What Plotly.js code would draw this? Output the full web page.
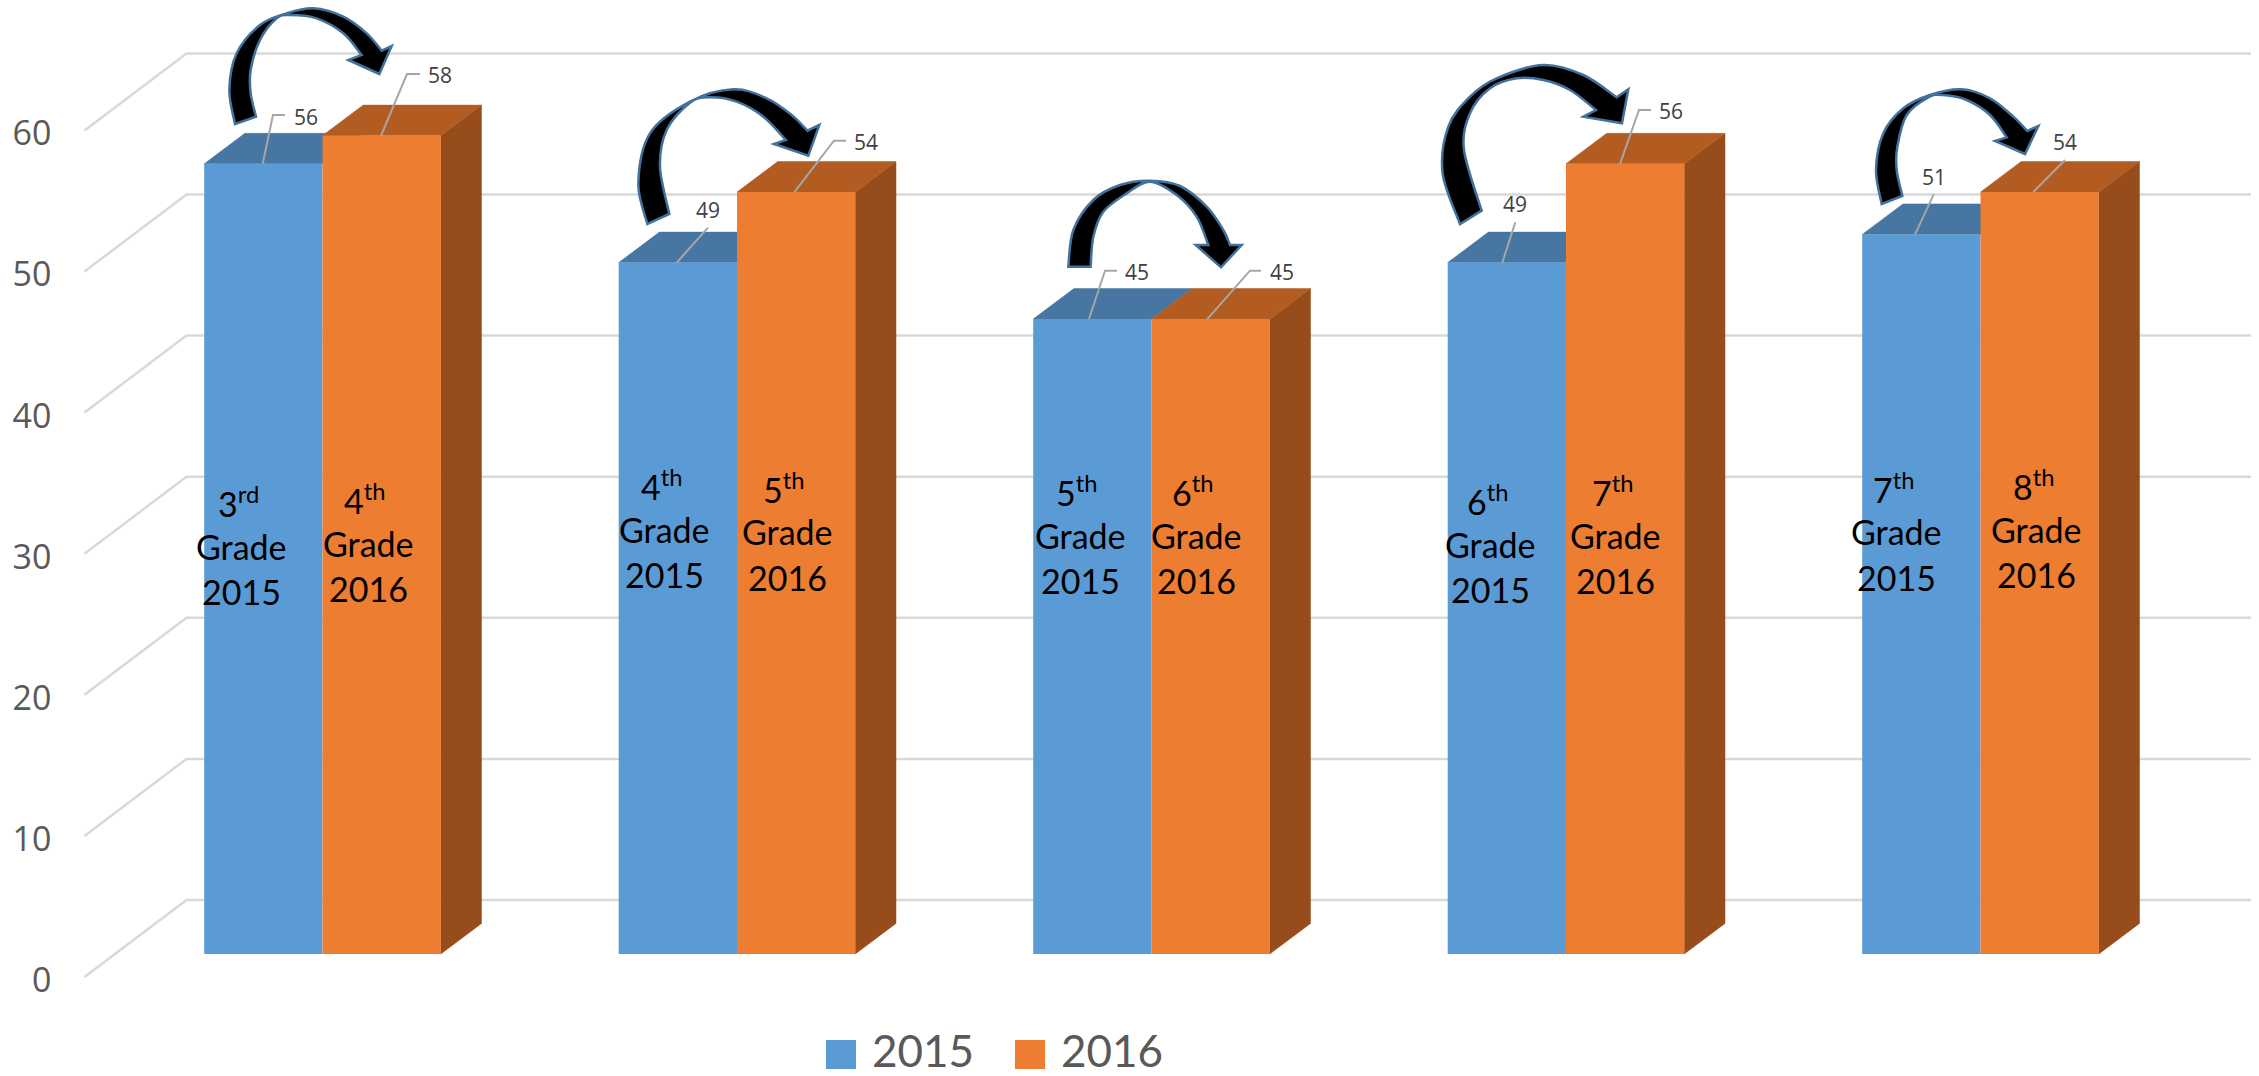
<!DOCTYPE html>
<html>
<head>
<meta charset="utf-8">
<script src="https://cdn.plot.ly/plotly-3.0.1.min.js"></script>
<style>html,body{margin:0;padding:0;background:#fff}#chart{width:2259px;height:1076px}</style>
</head>
<body>
<div id="chart"></div>
<script>
// ---------- data ----------
const groups = [0, 1, 2, 3, 4];
const series2015 = [56, 49, 45, 49, 51];
const series2016 = [58, 54, 45, 56, 54];
const names = ['2015', '2016'];
const tickVals = [0, 10, 20, 30, 40, 50, 60];
const ordinals2015 = ['3<sup>rd</sup>', '4<sup>th</sup>', '5<sup>th</sup>', '6<sup>th</sup>', '7<sup>th</sup>'];
const ordinals2016 = ['4<sup>th</sup>', '5<sup>th</sup>', '6<sup>th</sup>', '7<sup>th</sup>', '8<sup>th</sup>'];

// ---------- palette and page geometry ----------
const W = 2259, H = 1076;
const BLUE = '#5B9BD5', ORANGE = '#ED7D31', BLUE_TOP = '#4676A1', ORANGE_TOP = '#B35C21', ORANGE_SIDE = '#964D1B';
const GRID = '#D9D9D9', LEADER = '#A6A6A6', EDGE = '#41719C';
const X0 = 322.5, XSTEP = 414.5, BAR_W = 118.3, YSCALE = 14.11;
const WALL_ZERO = 977, BAR_ZERO = 954;
const X = px => (px - X0) / XSTEP;
const PX = px => px / W, PY = py => 1 - py / H;
const halfBar = BAR_W / XSTEP;
const depthX = 40.7 / XSTEP, depthY = 30.5 / YSCALE;
const planeOffset = (WALL_ZERO - BAR_ZERO) / YSCALE;
const floorOffset = (WALL_ZERO - 900) / YSCALE;

// ---------- 3D faces, on the wall axis (drawn below the bars) ----------
function joined(list) { const xs = [], ys = []; list.forEach(p => { p.forEach(q => { xs.push(q[0]); ys.push(q[1]); }); xs.push(null); ys.push(null); }); return { x: xs, y: ys }; }
const gridPts = joined(tickVals.map(v => [[X(84.5), v], [X(186.5), v + floorOffset], [X(2251), v + floorOffset]]));
const blueTop = joined(groups.map(i => { const c = i, v = series2015[i] + planeOffset; return [[c - halfBar, v], [c - halfBar + depthX, v + depthY], [c + depthX, v + depthY], [c, v], [c - halfBar, v]]; }));
const orangeTop = joined(groups.map(i => { const c = i, v = series2016[i] + planeOffset; return [[c, v], [c + depthX, v + depthY], [c + halfBar + depthX, v + depthY], [c + halfBar, v], [c, v]]; }));
const orangeSide = joined(groups.map(i => { const r = i + halfBar, v = series2016[i] + planeOffset; return [[r, planeOffset], [r, v], [r + depthX, v + depthY], [r + depthX, planeOffset + depthY], [r, planeOffset]]; }));
const face = (p, color) => ({ x: p.x, y: p.y, type: 'scatter', mode: 'lines', fill: 'toself', fillcolor: color, line: { width: 0.5, color: color }, hoverinfo: 'skip', showlegend: false, xaxis: 'x', yaxis: 'y' });

// ---------- leader lines: page position of the bend/end for each label ----------
const leadStart2015 = [262.7, 676.7, 1089, 1502.3, 1915];
const leadStart2016 = [381, 794.3, 1207.3, 1620, 2033.3];
const leadBend2015 = [[273, 115], [708, 227.7], [1105, 270.7], [1515.3, 222.3], [1933.7, 194.3]];
const leadEnd2015 = [[285, 115], null, [1117, 270.7], null, null];
const leadBend2016 = [[407, 74], [834, 140.7], [1250, 270.7], [1639, 110], [2065, 160]];
const leadEnd2016 = [[420, 74], [846, 140.7], [1261, 270.7], [1651, 110], null];
const labelPos2015 = [[305.7, 116.7], [707.7, 210], [1136.7, 271.7], [1515, 204], [1933.7, 176.7]];
const labelPos2016 = [[440, 75], [866, 141.7], [1281.7, 271.7], [1671, 110.7], [2065.3, 141.7]];
const Y2 = py => (BAR_ZERO - py) / YSCALE;
function leader(starts, vals, bends, ends) {
  return joined(groups.map(i => {
    const p = [[X(starts[i]), vals[i]], [X(bends[i][0]), Y2(bends[i][1])]];
    if (ends[i]) p.push([X(ends[i][0]), Y2(ends[i][1])]);
    return p;
  }));
}
const lead15 = leader(leadStart2015, series2015, leadBend2015, leadEnd2015);
const lead16 = leader(leadStart2016, series2016, leadBend2016, leadEnd2016);

const traces = [
  { x: gridPts.x, y: gridPts.y, type: 'scatter', mode: 'lines', line: { color: GRID, width: 2.5 }, hoverinfo: 'skip', showlegend: false, xaxis: 'x', yaxis: 'y' },
  face(blueTop, BLUE_TOP), face(orangeSide, ORANGE_SIDE), face(orangeTop, ORANGE_TOP),
  { name: names[0], x: groups, y: series2015, type: 'bar', marker: { color: BLUE }, xaxis: 'x', yaxis: 'y2', showlegend: false },
  { name: names[1], x: groups, y: series2016, type: 'bar', marker: { color: ORANGE }, xaxis: 'x', yaxis: 'y2', showlegend: false },
  { x: lead15.x, y: lead15.y, type: 'scatter', mode: 'lines', line: { color: LEADER, width: 2 }, hoverinfo: 'skip', showlegend: false, xaxis: 'x', yaxis: 'y2' },
  { x: lead16.x, y: lead16.y, type: 'scatter', mode: 'lines', line: { color: LEADER, width: 2 }, hoverinfo: 'skip', showlegend: false, xaxis: 'x', yaxis: 'y2' }
];

// ---------- text ----------
const annotations = [];
function txt(text, x, y, font, anchor) {
  annotations.push({ text, xref: 'paper', yref: 'paper', x: PX(x), y: PY(y), xanchor: anchor || 'center', yanchor: 'middle', showarrow: false, font, borderpad: 0 });
}
const valueFont = { family: 'Open Sans', size: 21, color: '#404040' };
groups.forEach(i => {
  txt(String(series2015[i]), labelPos2015[i][0], labelPos2015[i][1], valueFont);
  txt(String(series2016[i]), labelPos2016[i][0], labelPos2016[i][1], valueFont);
});
const gradeFont = { family: 'Lato', size: 34, color: '#000000' };
const gradeBlocks2015 = [[241.7, 547], [664.5, 530], [1080, 536], [1490.7, 545], [1896.7, 533]];
const gradeBlocks2016 = [[368, 544], [787, 533], [1196, 536], [1615.7, 536], [2036.7, 530]];
function gradeBlock(ord, year, pos) {
  txt(ord, pos[0] - 3, pos[1] - 45, gradeFont);
  txt('Grade', pos[0], pos[1] - 1, gradeFont);
  txt(year, pos[0], pos[1] + 44, gradeFont);
}
groups.forEach(i => {
  gradeBlock(ordinals2015[i], names[0], gradeBlocks2015[i]);
  gradeBlock(ordinals2016[i], names[1], gradeBlocks2016[i]);
});
const legendFont = { family: 'Lato', size: 44, color: '#595959' };
txt(names[0], 871, 1050, legendFont, 'left');
txt(names[1], 1060, 1050, legendFont, 'left');

// ---------- curved arrows and legend swatches ----------
function smooth(pts) {
  let d = '';
  for (let i = 0; i < pts.length - 1; i++) {
    const p0 = pts[Math.max(i - 1, 0)], p1 = pts[i], p2 = pts[i + 1], p3 = pts[Math.min(i + 2, pts.length - 1)];
    const c1 = [p1[0] + (p2[0] - p0[0]) / 6, p1[1] + (p2[1] - p0[1]) / 6];
    const c2 = [p2[0] - (p3[0] - p1[0]) / 6, p2[1] - (p3[1] - p1[1]) / 6];
    d += ` C${PX(c1[0])},${PY(c1[1])} ${PX(c2[0])},${PY(c2[1])} ${PX(p2[0])},${PY(p2[1])}`;
  }
  return d;
}
function arrow(ox, oy, outer, head, inner) {
  const f = l => l.map(p => [ox + p[0] / 3, oy + p[1] / 3]);
  const o = f(outer), h = f(head), n = f(inner);
  let d = `M${PX(o[0][0])},${PY(o[0][1])}` + smooth(o);
  h.forEach(p => { d += ` L${PX(p[0])},${PY(p[1])}`; });
  d += smooth(n) + ' Z';
  return { type: 'path', xref: 'paper', yref: 'paper', path: d, fillcolor: '#000000', line: { color: EDGE, width: 2.5 }, layer: 'above' };
}
const shapes = [
  arrow(60, 0,
    [[525,372],[508,270],[530,160],[600,75],[680,40],[760,25],[850,50],[920,100],[965,152]],
    [[995,138],[958,222],[865,180],[905,165]],
    [[905,165],[850,100],[770,55],[690,45],[650,55],[600,120],[572,210],[572,280],[588,350]]),
  arrow(600, 60,
    [[142,492],[115,370],[150,220],[270,125],[400,88],[500,115],[575,165],[622,212]],
    [[658,195],[625,287],[522,252],[558,240]],
    [[558,240],[490,170],[410,125],[330,112],[270,128],[200,210],[180,320],[208,462]]),
  arrow(1000, 150,
    [[205,350],[220,240],[280,150],[360,105],[450,92],[540,108],[620,170],[670,240],[690,285]],
    [[725,285],[663,352],[587,285],[625,285]],
    [[625,285],[590,200],[530,135],[450,95],[380,130],[310,185],[280,260],[272,350]]),
  arrow(1420, 40,
    [[120,552],[68,400],[85,260],[150,170],[230,115],[370,75],[490,105],[590,172]],
    [[625,148],[606,250],[490,230],[528,210]],
    [[528,210],[450,150],[370,120],[290,115],[210,145],[150,220],[132,330],[185,512]]),
  arrow(1840, 60,
    [[125,432],[108,330],[130,220],[190,145],[270,105],[365,88],[450,115],[520,170],[562,213]],
    [[595,198],[555,282],[465,243],[500,232]],
    [[500,232],[450,165],[380,120],[310,105],[265,112],[200,165],[172,260],[170,330],[187,408]]),
  { type: 'rect', xref: 'paper', yref: 'paper', x0: PX(826), x1: PX(856), y0: PY(1069), y1: PY(1040), fillcolor: BLUE, line: { width: 0 } },
  { type: 'rect', xref: 'paper', yref: 'paper', x0: PX(1015), x1: PX(1045), y0: PY(1069), y1: PY(1040), fillcolor: ORANGE, line: { width: 0 } }
];

const layout = {
  width: W, height: H,
  margin: { l: 0, r: 0, t: 0, b: 0, pad: 0 },
  paper_bgcolor: '#fff', plot_bgcolor: 'rgba(0,0,0,0)',
  barmode: 'group', bargap: 1 - 2 * BAR_W / XSTEP, bargroupgap: 0,
  showlegend: false,
  hovermode: false,
  xaxis: { range: [X(0), X(W)], visible: false, fixedrange: true },
  yaxis: {
    range: [(WALL_ZERO - H) / YSCALE, WALL_ZERO / YSCALE],
    tickmode: 'array', tickvals: tickVals, ticktext: tickVals.map(String),
    anchor: 'free', position: 51.5 / W, side: 'left',
    showgrid: false, zeroline: false, showline: false, ticks: '',
    ticklabelshift: 3,
    tickfont: { family: 'Open Sans', size: 34, color: '#595959' }, fixedrange: true
  },
  yaxis2: {
    range: [(BAR_ZERO - H) / YSCALE, BAR_ZERO / YSCALE],
    overlaying: 'y', side: 'right', visible: false, showgrid: false, zeroline: false, fixedrange: true
  },
  annotations, shapes
};
Plotly.newPlot('chart', traces, layout, { displayModeBar: false, staticPlot: true });
</script>
</body>
</html>
